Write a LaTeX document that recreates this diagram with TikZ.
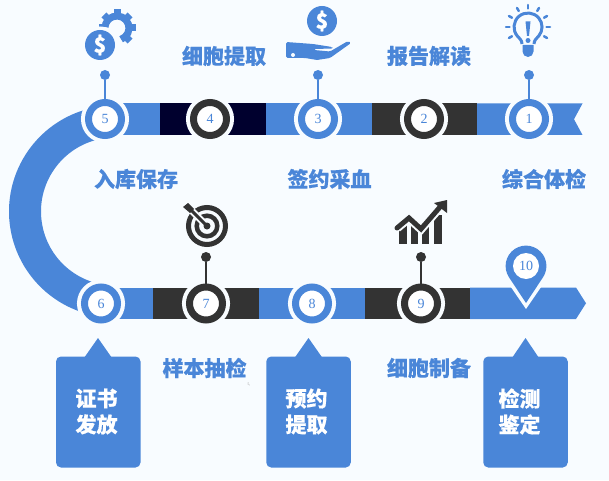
\documentclass[tikz,border=0pt]{standalone}
\usepackage{fontspec}
\setmainfont{Liberation Serif}
\newfontfamily\cjk{Noto Sans CJK SC}[BoldFeatures={FakeBold=0.4}]
\usetikzlibrary{arrows.meta,positioning}
\definecolor{bandblue}{HTML}{4A86D8}
\definecolor{banddark}{HTML}{333333}
\definecolor{bandnavy}{HTML}{00002E}
\definecolor{bgcol}{HTML}{F8FCFF}
\tikzset{
  stopbase/.style={circle, fill=white, line width=7pt, minimum size=33pt, inner sep=0pt, font=\fontsize{14}{14}\selectfont, text=bandblue, preaction={draw=bgcol, line width=15pt}},
  stopblue/.style={stopbase, draw=bandblue},
  stopdark/.style={stopbase, draw=banddark},
  dotblue/.style={circle, fill=bandblue, minimum size=10pt, inner sep=0pt},
  dotdark/.style={circle, fill=banddark, minimum size=10pt, inner sep=0pt},
  stemblue/.style={bandblue, line width=2.5pt},
  stemdark/.style={banddark, line width=2.5pt},
  label/.style={font=\cjk\bfseries\fontsize{21}{21}\selectfont, text=bandblue},
  callout/.style={rectangle, rounded corners=5pt, fill=bandblue, minimum width=84.5pt, minimum height=111pt},
  callouttext/.style={text=white, align=center, font=\cjk\bfseries\fontsize{21}{26}\selectfont},
  coin/.style={circle, fill=bandblue, text=white, minimum size=30pt, inner sep=0pt, font=\cjk\bfseries\fontsize{21}{21}\selectfont},
  pinnum/.style={circle, fill=white, minimum size=26pt, inner sep=0pt, font=\fontsize{14}{14}\selectfont, text=bandblue}
}
\begin{document}
\begin{tikzpicture}[x=1pt, y=1pt]
  \useasboundingbox (0,0) rectangle (609,480);
  \fill[bgcol] (0,0) rectangle (609,480);

  % curve between the two bands
  \draw[bandblue, line width=32pt] (115,268.5) ++(100:90) arc[start angle=100, end angle=260, radius=90pt];

  % top band
  \fill[bandblue] (120,345) rectangle (160,376.5);
  \fill[bandnavy] (160,345) rectangle (266,376.5);
  \fill[bandblue] (266,345) rectangle (372,376.5);
  \fill[banddark] (372,345) rectangle (477,376.5);
  \fill[bandblue] (477,345) -- (477,376.5) -- (582.5,376.5) -- (574,360.75) -- (582.5,345) -- cycle;

  % bottom band
  \fill[bandblue] (116,161) rectangle (153,192.5);
  \fill[banddark] (153,161) rectangle (259,192.5);
  \fill[bandblue] (259,161) rectangle (365,192.5);
  \fill[banddark] (365,161) rectangle (470,192.5);
  \fill[bandblue] (470,161) -- (470,192.5) -- (576,192.5) -- (586,176.75) -- (576,161) -- cycle;

  % stops
  \node[stopblue] (s5) at (105,361) {5};
  \node[stopdark] (s4) at (210,361) {4};
  \node[stopblue] (s3) at (318,361) {3};
  \node[stopdark] (s2) at (424,361) {2};
  \node[stopblue] (s1) at (529,361) {1};
  \node[stopblue] (s6) at (101,176.5) {6};
  \node[stopdark] (s7) at (206,176.5) {7};
  \node[stopblue] (s8) at (312,176.5) {8};
  \node[stopdark] (s9) at (421,176.5) {9};

  % pin on the bottom band
  \fill[bgcol] (526,171) -- (504,203) -- (548,203) -- cycle;
  \fill[bandblue] (526,214) ++(213.5:20.4) arc[start angle=213.5, end angle=-33.5, radius=20.4pt] -- (526,177) -- cycle;
  \node[pinnum] (s10) at (526,214) {10};

  % stems
  \node[dotblue] (d5) at (105,405) {};
  \node[dotblue] (d3) at (318,405) {};
  \node[dotblue] (d1) at (529,405) {};
  \node[dotdark] (d7) at (206,223) {};
  \node[dotdark] (d9) at (421,223) {};
  \draw[stemblue] (d5) -- (s5);
  \draw[stemblue] (d3) -- (s3);
  \draw[stemblue] (d1) -- (s1);
  \draw[stemdark] (d7) -- (s7);
  \draw[stemdark] (d9) -- (s9);

  % labels
  \node[label] (l4) at (224,424) {细胞提取};
  \node[label] (l2) at (429,424) {报告解读};
  \node[label] (l5) at (136,301) {入库保存};
  \node[label] (l3) at (329.5,301) {签约采血};
  \node[label] (l1) at (544,301) {综合体检};
  \node[label] (l7) at (204.5,112) {样本抽检};
  \node[label] (l9) at (429,112) {细胞制备};
  \node[font=\fontsize{5}{5}\selectfont, text=gray!70] (stray) at (249,96) {t,};

  % callouts
  \node[callout] (b6) at (98.25,68) {};
  \node[callout] (b8) at (308.5,68) {};
  \node[callout] (b10) at (525.5,68) {};
  \fill[bandblue] (84,122) -- (98,142) -- (112,122) -- cycle;
  \fill[bandblue] (294.5,122) -- (308.5,142) -- (322.5,122) -- cycle;
  \fill[bandblue] (512,122) -- (525.5,142) -- (539,122) -- cycle;
  \node[callouttext] (t6) at (96.5,68.5) {证书\\发放};
  \node[callouttext] (t8) at (306.5,68.5) {预约\\提取};
  \node[callouttext] (t10) at (519.5,68.5) {检测\\鉴定};

  % gear and coin
  \draw[bandblue, line width=7pt] (117,452) ++(-70:12) arc[start angle=-70, end angle=175, radius=12pt];
  \foreach \a in {-45,0,45,90,135,180}
    \fill[bandblue, shift={(117,452)}, rotate=\a] (12,-3.5) rectangle (18.5,3.5);
  \node[coin, preaction={draw=bgcol, line width=7pt}] (c5) at (100,435) {\$};

  % hand and coin
  \node[coin] (c3) at (322,459) {\$};
  \fill[bandblue, rounded corners=1.5pt] (286,438) -- (313,436) -- (332,433) -- (333,431.5) -- (314,431) -- (314,430) -- (330,428.5) -- (348,439) -- (351,437) -- (330,422) -- (317,420) -- (305,422) -- (286,422) -- cycle;
  \fill[bgcol] (293,425) circle (2pt);

  % bulb
  \draw[bandblue, line width=3pt] (522,436) .. controls (522,440) and (519,442) .. (517.3,444) arc[start angle=220, end angle=-40, radius=14pt] .. controls (537,442) and (534,440) .. (534,436);
  \fill[bandblue] (522.5,435) -- (533.5,435) -- (533.5,428.5) arc[start angle=0, end angle=-180, radius=5.5pt] -- cycle;
  \fill[bandblue] (525.5,458.5) -- (530.5,458.5) -- (529,444) -- (527,444) -- cycle;
  \fill[bandblue] (528,439.5) circle (2.5pt);
  \foreach \a in {-30,0,30,60,90,120,150,180,210}
    \draw[bandblue, line width=2.5pt, line cap=round] (528,453) ++(\a:18.5) -- ++(\a:3.5);

  % target
  \draw[banddark, line width=5pt] (207,254) circle (18.5pt);
  \draw[banddark, line width=4.5pt] (207,254) circle (10.3pt);
  \fill[banddark] (207,254) circle (3.5pt);
  \draw[bgcol, line width=7pt] (204,257) -- (190,271);
  \draw[banddark, line width=3pt] (207,254) -- (190,271);
  \fill[banddark] (183,273) -- (188,277) -- (194,271) -- (190,267) -- cycle;

  % chart
  \fill[banddark] (399,236) rectangle (407,256);
  \fill[banddark] (411,236) rectangle (418,254);
  \fill[banddark] (422,236) rectangle (429,256);
  \fill[banddark] (434,236) rectangle (442,265);
  \draw[bgcol, line width=9pt] (397,252) -- (409,262) -- (421,251) -- (440,273);
  \draw[banddark, line width=5pt, line cap=round] (397,252) -- (409,262) -- (421,251) -- (440,273);
  \fill[banddark] (434,277) -- (447,280) -- (447,267) -- cycle;
\end{tikzpicture}
\end{document}
